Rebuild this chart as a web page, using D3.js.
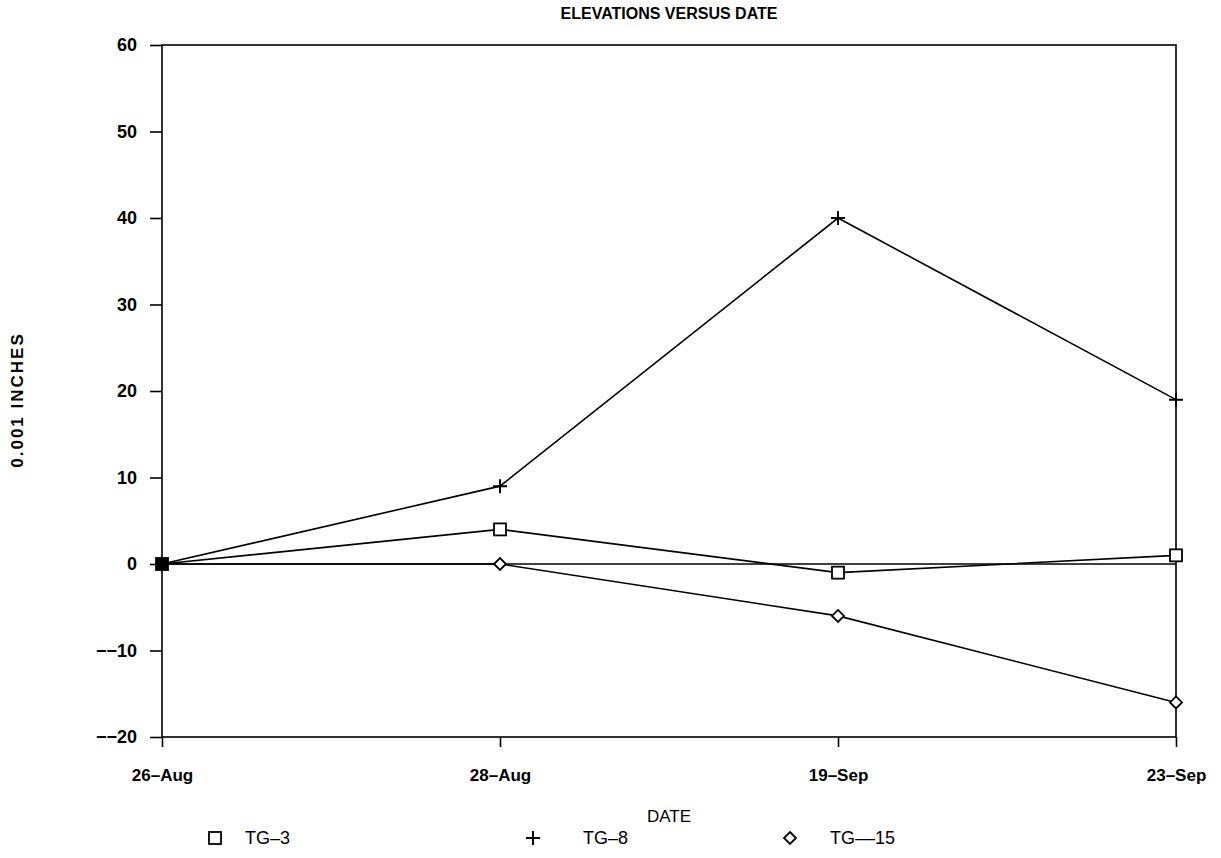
<!DOCTYPE html>
<html>
<head>
<meta charset="utf-8">
<script src="https://cdn.jsdelivr.net/npm/d3@7"></script>
<style>
body { margin: 0; background: #fff; }
svg text { font-family: "Liberation Sans", Arial, sans-serif; fill: #000; }
</style>
</head>
<body>
<svg id="chart" width="1221" height="858"></svg>
<script>
const dates = ["26–Aug", "28–Aug", "19–Sep", "23–Sep"];
const tg3 = [0, 4, -1, 1];
const tg8 = [0, 9, 40, 19];
const tg15 = [0, 0, -6, -16];
const yTicks = [-20, -10, 0, 10, 20, 30, 40, 50, 60];
const seriesNames = ["TG–3", "TG–8", "TG––15"];

const svg = d3.select("#chart");
const pLeft = 162, pRight = 1176, pTop = 45, pBottom = 737;

const x = d3.scalePoint().domain(dates).range([pLeft, pRight]);
const y = d3.scaleLinear().domain([-20, 60]).range([pBottom, pTop]);

// frame
svg.append("rect").attr("x", pLeft).attr("y", pTop).attr("width", pRight - pLeft).attr("height", pBottom - pTop)
  .attr("fill", "none").attr("stroke", "#000").attr("stroke-width", 1.6);

// zero line
svg.append("line").attr("x1", pLeft).attr("x2", pRight).attr("y1", y(0)).attr("y2", y(0))
  .attr("stroke", "#000").attr("stroke-width", 1.6);

// y axis
const yAxis = d3.axisLeft(y).tickValues(yTicks).tickSize(12).tickPadding(13)
  .tickFormat(d => d < 0 ? "−−" + Math.abs(d) : String(d));
const gy = svg.append("g").attr("transform", `translate(${pLeft},0)`).call(yAxis);
gy.select(".domain").remove();
gy.selectAll("line").attr("stroke", "#000").attr("stroke-width", 1.6);
gy.selectAll("text").attr("font-size", 18).attr("font-weight", "bold").style("font-family", "Liberation Sans, Arial, sans-serif");

// x axis
const xAxis = d3.axisBottom(x).tickSize(10).tickPadding(22);
const gx = svg.append("g").attr("transform", `translate(0,${pBottom})`).call(xAxis);
gx.select(".domain").remove();
gx.selectAll("line").attr("stroke", "#000").attr("stroke-width", 1.6);
gx.selectAll("text").attr("font-size", 17).attr("font-weight", "bold").style("font-family", "Liberation Sans, Arial, sans-serif");

// title and labels
svg.append("text").attr("x", 669).attr("y", 19).attr("text-anchor", "middle")
  .attr("font-size", 16).attr("font-weight", "bold").attr("font-family", "Liberation Sans Narrow, Liberation Sans, sans-serif")
  .text("ELEVATIONS VERSUS DATE");
svg.append("text").attr("x", 669).attr("y", 822).attr("text-anchor", "middle")
  .attr("font-size", 17).attr("font-family", "Liberation Sans Narrow, Liberation Sans, sans-serif")
  .text("DATE");
svg.append("text").attr("transform", "translate(23,400) rotate(-90)").attr("text-anchor", "middle")
  .attr("font-size", 17).attr("letter-spacing", 2).attr("font-weight", "bold").text("0.001 INCHES");

const line = d3.line().x((d, i) => x(dates[i])).y(d => y(d));
const series = [tg3, tg8, tg15];
series.forEach(s => {
  svg.append("path").datum(s).attr("d", line).attr("fill", "none")
    .attr("stroke", "#000").attr("stroke-width", 1.6);
});

function drawMarker(g, type, cx, cy, filled) {
  if (type === "square") {
    g.append("rect").attr("x", cx - 6).attr("y", cy - 6).attr("width", 12).attr("height", 12)
      .attr("fill", filled ? "#000" : "#fff").attr("stroke", "#000").attr("stroke-width", 1.8);
  } else if (type === "plus") {
    g.append("path").attr("d", `M${cx - 7},${cy}H${cx + 7}M${cx},${cy - 7}V${cy + 7}`)
      .attr("stroke", "#000").attr("stroke-width", 2);
  } else {
    g.append("path").attr("d", `M${cx},${cy - 6}L${cx + 6},${cy}L${cx},${cy + 6}L${cx - 6},${cy}Z`)
      .attr("fill", "#fff").attr("stroke", "#000").attr("stroke-width", 1.8);
  }
}
const types = ["square", "plus", "diamond"];
const mg = svg.append("g");
[2, 1, 0].forEach(k => {
  series[k].forEach((v, i) => drawMarker(mg, types[k], x(dates[i]), y(v), k === 0 && i === 0));
});

// legend
const legX = [215, 533, 790];
const legTextX = [245, 583, 830];
const legY = 838;
types.forEach((t, k) => {
  drawMarker(svg, t, legX[k], legY, false);
  svg.append("text").attr("x", legTextX[k]).attr("y", legY + 6)
    .attr("font-size", 18).attr("font-family", "Liberation Sans Narrow, Liberation Sans, sans-serif")
    .text(seriesNames[k]);
});
</script>
</body>
</html>
